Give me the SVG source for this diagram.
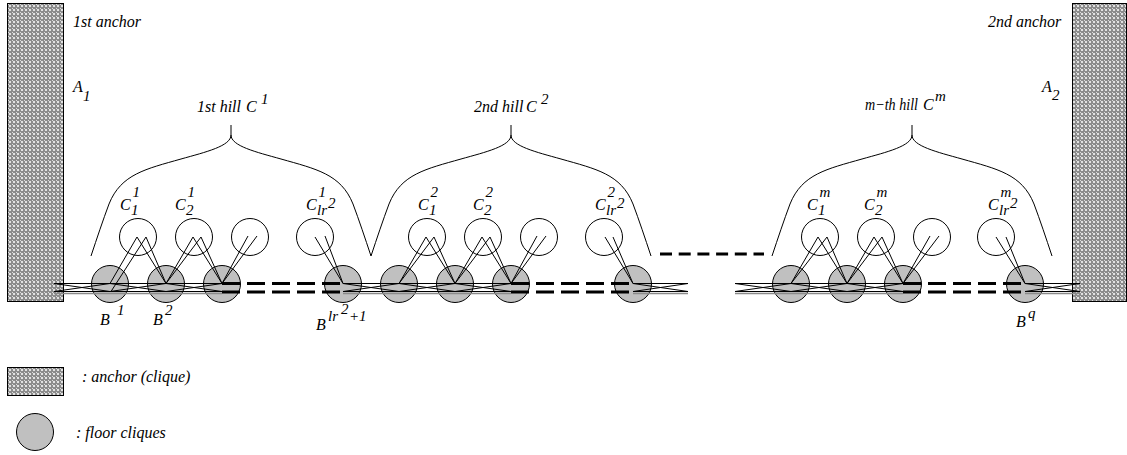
<svg xmlns="http://www.w3.org/2000/svg" width="1127" height="455" viewBox="0 0 1127 455">
  <style>
    text { font-family: "Liberation Serif", "Times New Roman", serif; font-style: italic; font-size: 16px; fill: #000; }
    text.s { font-size: 15px; }
    .anchor { fill: url(#hatch); stroke: #000; stroke-width: 1; }
    .floor { fill: #c0c0c0; stroke: #000; stroke-width: 1; }
    .hillnode { fill: #fff; stroke: #000; stroke-width: 1; }
    .brace { fill: none; stroke: #000; stroke-width: 1; }
    .thin { fill: none; stroke: #000; stroke-width: 1; }
    .grey { fill: none; stroke: #8a8a8a; stroke-width: 1.6; }
    .dash { fill: none; stroke: #000; stroke-width: 3; stroke-dasharray: 18 7; }
    .gapdash { fill: none; stroke: #000; stroke-width: 3; stroke-dasharray: 12 6.7; }
  </style>
  <defs>
    <pattern id="hatch" width="4" height="4" patternUnits="userSpaceOnUse">
      <rect width="4" height="4" fill="#8c8c8c"/>
      <circle cx="2" cy="2" r="1" fill="#ffffff"/>
      <rect x="0" y="0" width="1" height="1" fill="#dcdcdc"/>
    </pattern>
  </defs>

  <rect width="1127" height="455" fill="#fff"/>

  <!-- anchors -->
  <g id="anchor1"><rect class="anchor" x="7.5" y="3.5" width="56" height="298"/></g>
  <g id="anchor2"><rect class="anchor" x="1072.5" y="3.5" width="54" height="298"/></g>

  <!-- hill braces -->
  <g id="hill1">
    <path class="brace" d="M231,125 V135 C231,146 206,152 181,159 C146,169 121,174 109,204 C103,220 97,238 91,256"/>
    <path class="brace" d="M231,135 C231,146 256,152 281,159 C316,169 341,174 353,204 C359,220 365,238 371,256"/>
  </g>
  <g id="hill2">
    <path class="brace" d="M511,125 V135 C511,146 486,152 461,159 C426,169 401,174 389,204 C383,220 377,238 371,256"/>
    <path class="brace" d="M511,135 C511,146 536,152 561,159 C596,169 621,174 633,204 C639,220 645,238 651,256"/>
  </g>
  <g id="hillm">
    <path class="brace" d="M912,125 V135 C912,146 887,152 862,159 C827,169 802,174 790,204 C784,220 778,238 772,256"/>
    <path class="brace" d="M912,135 C912,146 937,152 962,159 C997,169 1022,174 1034,204 C1040,220 1046,238 1052,256"/>
  </g>

  <!-- hill cliques -->
  <g id="c1-1"><circle class="hillnode" cx="138" cy="237" r="18.5"/></g>
  <g id="c1-2"><circle class="hillnode" cx="194" cy="237" r="18.5"/></g>
  <g id="c1-3"><circle class="hillnode" cx="250" cy="237" r="18.5"/></g>
  <g id="c1-lr2"><circle class="hillnode" cx="315" cy="237" r="18.5"/></g>
  <g id="c2-1"><circle class="hillnode" cx="427" cy="237" r="18.5"/></g>
  <g id="c2-2"><circle class="hillnode" cx="483" cy="237" r="18.5"/></g>
  <g id="c2-3"><circle class="hillnode" cx="539" cy="237" r="18.5"/></g>
  <g id="c2-lr2"><circle class="hillnode" cx="604" cy="237" r="18.5"/></g>
  <g id="cm-1"><circle class="hillnode" cx="820" cy="237" r="18.5"/></g>
  <g id="cm-2"><circle class="hillnode" cx="876" cy="237" r="18.5"/></g>
  <g id="cm-3"><circle class="hillnode" cx="932" cy="237" r="18.5"/></g>
  <g id="cm-lr2"><circle class="hillnode" cx="996" cy="237" r="18.5"/></g>

  <!-- floor cliques -->
  <g id="b1"><circle class="floor" cx="110" cy="284" r="18.5"/></g>
  <g id="b2"><circle class="floor" cx="166" cy="284" r="18.5"/></g>
  <g id="b3"><circle class="floor" cx="222" cy="284" r="18.5"/></g>
  <g id="b-lr2-1"><circle class="floor" cx="343" cy="284" r="18.5"/></g>
  <g id="b5"><circle class="floor" cx="399" cy="284" r="18.5"/></g>
  <g id="b6"><circle class="floor" cx="455" cy="284" r="18.5"/></g>
  <g id="b7"><circle class="floor" cx="511" cy="284" r="18.5"/></g>
  <g id="b8"><circle class="floor" cx="633" cy="284" r="18.5"/></g>
  <g id="b9"><circle class="floor" cx="791" cy="284" r="18.5"/></g>
  <g id="b10"><circle class="floor" cx="847" cy="284" r="18.5"/></g>
  <g id="b11"><circle class="floor" cx="903" cy="284" r="18.5"/></g>
  <g id="bq"><circle class="floor" cx="1025" cy="284" r="18.5"/></g>

  <!-- connectors -->
  <g id="connectors">
    <!-- floor rails -->
    <path class="grey" d="M54,293.5 H222 M343,293.5 H511 M633,293.5 H688 M735,293.5 H903 M1025,293.5 H1080"/>
    <path class="thin" d="M54,283.5 H222 M343,283.5 H511 M633,283.5 H688 M735,283.5 H903 M1025,283.5 H1080"/>
    <path class="thin" d="M54,291.5 H222 M343,291.5 H511 M633,291.5 H688 M735,291.5 H903 M1025,291.5 H1080"/>
    <!-- crossings between neighbouring floor cliques -->
    <path class="thin" d="M54,283.5 L110,291.5 M54,291.5 L110,283.5
      M110,283.5 L166,291.5 M110,291.5 L166,283.5
      M166,283.5 L222,291.5 M166,291.5 L222,283.5
      M343,283.5 L399,291.5 M343,291.5 L399,283.5
      M399,283.5 L455,291.5 M399,291.5 L455,283.5
      M455,283.5 L511,291.5 M455,291.5 L511,283.5
      M633,283.5 L688,291.5 M633,291.5 L688,283.5
      M735,283.5 L791,291.5 M735,291.5 L791,283.5
      M791,283.5 L847,291.5 M791,291.5 L847,283.5
      M847,283.5 L903,291.5 M847,291.5 L903,283.5
      M1025,283.5 L1080,291.5 M1025,291.5 L1080,283.5"/>
    <!-- elided floor stretches -->
    <path class="dash" d="M222,283.5 H343 M222,292 H343 M511,283.5 H633 M511,292 H633 M903,283.5 H1025 M903,292 H1025"/>
    <path class="gapdash" d="M660,254 H764"/>
    <!-- hill clique to floor clique edges -->
    <path class="thin" d="M110,283.5 L137,237 L166,283.5 M111,291.5 L146,237 L166,283.5
      M166,283.5 L193,237 L222,283.5 M166,283.5 L201,237 L222,283.5
      M222,283.5 L248,236 M222,283.5 L257,236
      M315,237 L343,283.5 M325,236 L343,283.5"/>
    <path class="thin" d="M399,283.5 L426,237 L455,283.5 M399,283.5 L434,237 L455,283.5
      M455,283.5 L482,237 L511,283.5 M455,283.5 L490,237 L511,283.5
      M511,283.5 L537,236 M511,283.5 L546,236
      M605,237 L633,283.5 M613,237 L633,283.5"/>
    <path class="thin" d="M791,283.5 L818,237 L847,283.5 M791,283.5 L827,237 L847,283.5
      M847,283.5 L874,237 L903,283.5 M847,283.5 L882,237 L903,283.5
      M903,283.5 L930,236 M903,283.5 L939,236
      M996,237 L1025,283.5 M1006,237 L1025,283.5"/>
  </g>

  <!-- labels -->
  <g id="labels">
    <text x="73" y="27">1st anchor</text>
    <text x="73" y="92">A</text><text class="s" x="83" y="101">1</text>
    <text x="988" y="27">2nd anchor</text>
    <text x="1042" y="92">A</text><text class="s" x="1052" y="100">2</text>

    <text x="197" y="112">1st hill</text><text x="246" y="112">C</text><text class="s" x="261" y="104">1</text>
    <text x="474" y="112">2nd hill</text><text x="526" y="112">C</text><text class="s" x="541" y="104">2</text>
    <text x="865" y="110" textLength="53" lengthAdjust="spacingAndGlyphs">m−th hill</text><text x="923" y="110">C</text><text class="s" x="935" y="101">m</text>

    <text x="120" y="210">C</text><text class="s" x="132.5" y="197">1</text><text class="s" x="131" y="215">1</text>
    <text x="175" y="210">C</text><text class="s" x="187.5" y="197">1</text><text class="s" x="186" y="215">2</text>
    <text x="306" y="210">C</text><text class="s" x="318.5" y="197">1</text><text class="s" x="317" y="215">lr</text><text class="s" x="328" y="208">2</text>

    <text x="418" y="210">C</text><text class="s" x="430.5" y="197">2</text><text class="s" x="429" y="215">1</text>
    <text x="473" y="210">C</text><text class="s" x="485.5" y="197">2</text><text class="s" x="484" y="215">2</text>
    <text x="595" y="210">C</text><text class="s" x="607.5" y="197">2</text><text class="s" x="606" y="215">lr</text><text class="s" x="617" y="208">2</text>

    <text x="807" y="210">C</text><text class="s" x="819.5" y="197">m</text><text class="s" x="818" y="215">1</text>
    <text x="864" y="210">C</text><text class="s" x="876.5" y="197">m</text><text class="s" x="875" y="215">2</text>
    <text x="988" y="210">C</text><text class="s" x="1000.5" y="197">m</text><text class="s" x="999" y="215">lr</text><text class="s" x="1010" y="208">2</text>

    <text x="100" y="325">B</text><text class="s" x="117" y="315">1</text>
    <text x="153" y="325">B</text><text class="s" x="165" y="315">2</text>
    <text x="316" y="330">B</text><text class="s" x="328" y="321">lr</text><text class="s" x="341" y="314">2</text><text class="s" x="349" y="321">+1</text>
    <text x="1016" y="327">B</text><text class="s" x="1028" y="318">q</text>
  </g>

  <!-- legend -->
  <g id="legend-anchor">
    <rect class="anchor" x="7.5" y="367.5" width="56" height="28"/>
    <text x="82" y="382">: anchor (clique)</text>
  </g>
  <g id="legend-floor">
    <circle class="floor" cx="35" cy="432" r="18.5"/>
    <text x="76" y="438">: floor cliques</text>
  </g>
</svg>
